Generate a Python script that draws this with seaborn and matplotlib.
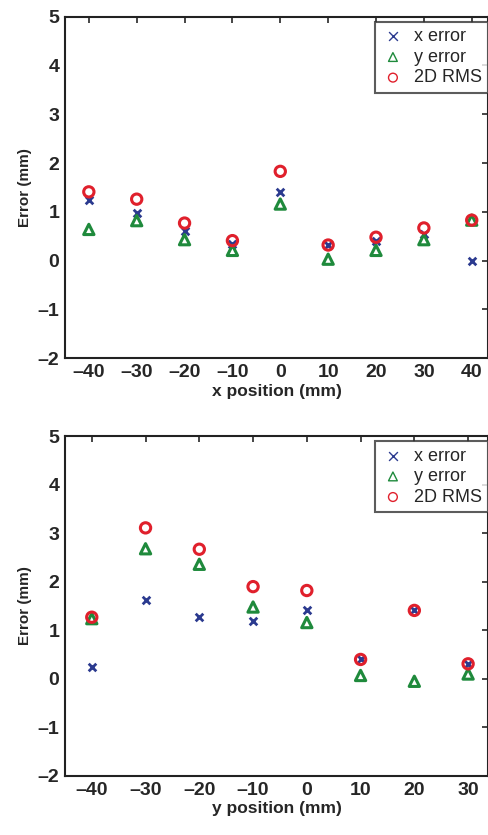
import numpy as np
import pandas as pd
import matplotlib
matplotlib.use("Agg")
import matplotlib.pyplot as plt
import seaborn as sns

sns.set_style("white")
plt.rcParams['font.family'] = ['Liberation Sans', 'DejaVu Sans']

# x-position sweep
xpos = [-40, -30, -20, -10, 0, 10, 20, 30, 40]
xpos_xerr = [1.24, 0.97, 0.61, 0.34, 1.41, 0.32, 0.41, 0.55, 0.0]
xpos_yerr = [0.64, 0.82, 0.43, 0.21, 1.16, 0.03, 0.21, 0.43, 0.83]
xpos_rms = [1.41, 1.26, 0.77, 0.41, 1.83, 0.32, 0.48, 0.67, 0.83]

# y-position sweep
ypos = [-40, -30, -20, -10, 0, 10, 20, 30]
ypos_xerr = [0.24, 1.63, 1.27, 1.19, 1.41, 0.40, 1.41, 0.31]
ypos_yerr = [1.24, 2.68, 2.36, 1.48, 1.16, 0.07, -0.05, 0.10]
ypos_rms = [1.27, 3.11, 2.67, 1.90, 1.82, 0.40, 1.41, 0.31]

BLUE = "#2b3a8f"
GREEN = "#1f8a3c"
RED = "#e0202c"

fig = plt.figure(figsize=(4.88, 8.35), dpi=100)
ax1 = fig.add_axes([0.133, 0.571, 0.867, 0.409])
ax2 = fig.add_axes([0.133, 0.0707, 0.867, 0.407])


def draw(ax, pos, xe, ye, rms, xlim, xlabel):
    sns.scatterplot(x=pos, y=xe, ax=ax, marker="x", color=BLUE, s=30,
                    linewidth=2, label="x error", zorder=3)
    sns.scatterplot(x=pos, y=ye, ax=ax, marker="^", facecolor="none",
                    edgecolor=GREEN, s=55, linewidth=2.2, label="y error", zorder=3)
    sns.scatterplot(x=pos, y=rms, ax=ax, marker="o", facecolor="none",
                    edgecolor=RED, s=55, linewidth=2.2, label="2D RMS", zorder=3)
    ax.set_xlim(*xlim)
    ax.set_ylim(-2, 5)
    ax.set_xticks(pos)
    ax.set_xticklabels([str(p).replace("-", "\u2013") for p in pos])
    ax.set_yticks(range(-2, 6))
    ax.set_yticklabels([str(v).replace("-", "\u2013") for v in range(-2, 6)])
    ax.tick_params(direction="in", length=4, width=1.2, top=True, right=True,
                   labelsize=14, pad=4)
    for lab in ax.get_xticklabels() + ax.get_yticklabels():
        lab.set_fontweight("bold")
    for sp in ax.spines.values():
        sp.set_linewidth(1.5)
        sp.set_color("#222222")
    ax.set_xlabel(xlabel, fontsize=12.5, fontweight="bold", labelpad=2)
    ax.set_ylabel("Error (mm)", fontsize=11, fontweight="bold", labelpad=4)
    leg = ax.legend(loc="upper right", bbox_to_anchor=(1.0, 0.985), fontsize=13,
                    frameon=True, fancybox=False, edgecolor="#333333",
                    borderpad=0.35, handletextpad=0.5, labelspacing=0.2,
                    borderaxespad=0, handlelength=1.3)
    leg.get_frame().set_linewidth(1.5)
    for h in leg.legend_handles:
        h.set_linewidth(1.0)
        h.set_sizes([40])


draw(ax1, xpos, xpos_xerr, xpos_yerr, xpos_rms, (-45, 43.4), "x position (mm)")
draw(ax2, ypos, ypos_xerr, ypos_yerr, ypos_rms, (-45, 33.7), "y position (mm)")

fig.savefig("out.png", dpi=100)
